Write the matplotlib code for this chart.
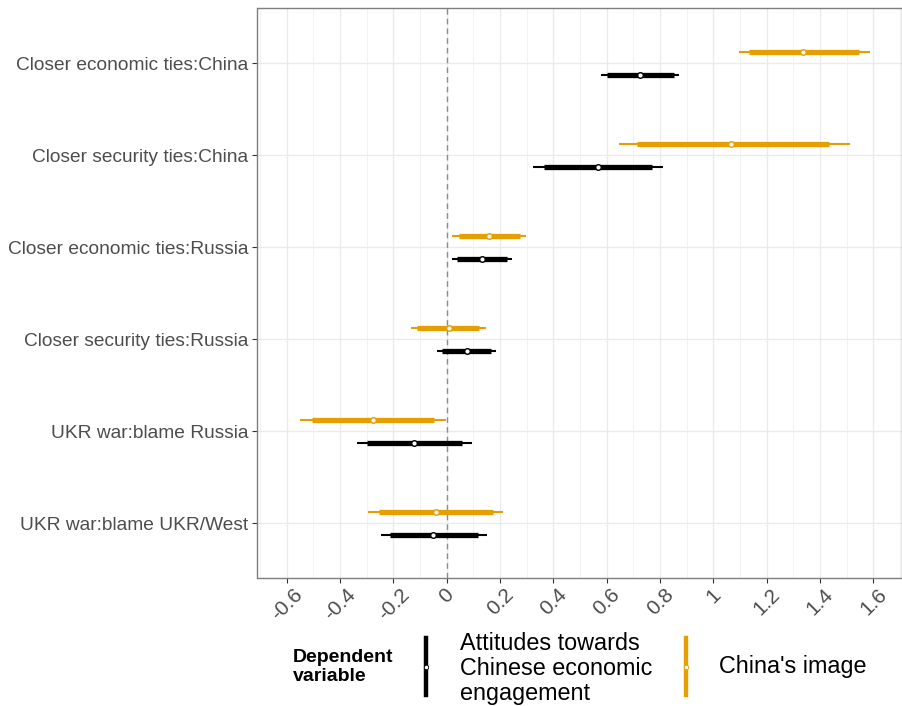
import matplotlib
matplotlib.use("Agg")
import numpy as np
from matplotlib import pyplot as plt
from matplotlib.lines import Line2D

plt.rcParams["font.family"] = ["Liberation Sans", "DejaVu Sans"]

# %%
terms = [
    "Closer economic ties:China",
    "Closer security ties:China",
    "Closer economic ties:Russia",
    "Closer security ties:Russia",
    "UKR war:blame Russia",
    "UKR war:blame UKR/West",
]

# China's image (orange)
img_est = [1.336, 1.066, 0.160, 0.008, -0.276, -0.041]
img_lo90 = [1.134, 0.715, 0.045, -0.111, -0.504, -0.253]
img_hi90 = [1.545, 1.432, 0.275, 0.122, -0.049, 0.172]
img_lo95 = [1.096, 0.647, 0.020, -0.134, -0.550, -0.294]
img_hi95 = [1.588, 1.513, 0.297, 0.146, -0.004, 0.211]

# Attitudes towards Chinese economic engagement (black)
att_est = [0.726, 0.567, 0.132, 0.075, -0.123, -0.051]
att_lo90 = [0.602, 0.365, 0.039, -0.018, -0.300, -0.214]
att_hi90 = [0.852, 0.771, 0.227, 0.166, 0.057, 0.116]
att_lo95 = [0.577, 0.324, 0.020, -0.035, -0.336, -0.245]
att_hi95 = [0.872, 0.810, 0.244, 0.185, 0.095, 0.149]

xticks = [-0.6, -0.4, -0.2, 0, 0.2, 0.4, 0.6, 0.8, 1, 1.2, 1.4, 1.6]
xtick_labels = ["-0.6", "-0.4", "-0.2", "0", "0.2", "0.4", "0.6", "0.8", "1", "1.2", "1.4", "1.6"]

orange = "#E69F00"
grey30 = "#4D4D4D"

# %%
fig = plt.figure(figsize=(9.03, 7.06), dpi=100)
W, H = 903, 706
ax = fig.add_axes([257.5 / W, 1 - 578.3 / H, (901.7 - 257.5) / W, (578.3 - 8.3) / H])

ypos = np.arange(len(terms))[::-1] + 1
dodge = 0.125


def draw_series(y, est, lo90, hi90, lo95, hi95, color):
    ax.hlines(y, lo95, hi95, color=color, lw=1.5, zorder=3)
    ax.hlines(y, lo90, hi90, color=color, lw=3.8, zorder=4)
    ax.plot(est, y, "o", ms=4, mfc="white", mec=color, mew=1.0, zorder=5, ls="none")


draw_series(ypos + dodge, img_est, img_lo90, img_hi90, img_lo95, img_hi95, orange)
draw_series(ypos - dodge, att_est, att_lo90, att_hi90, att_lo95, att_hi95, "black")

ax.axvline(0, color="#8C8C8C", ls=(0, (4, 3)), lw=1.0, zorder=2)

ax.set_xlim(-0.710, 1.706)
ax.set_ylim(0.4, 6.6)
ax.set_xticks(xticks)
ax.set_xticklabels(xtick_labels, rotation=45, ha="center", fontsize=15, color=grey30)
ax.set_xticks(np.arange(-0.7, 1.75, 0.1), minor=True)
ax.set_yticks(ypos)
ax.set_yticklabels(terms, fontsize=13.8, color=grey30)
ax.tick_params(axis="both", which="major", length=3.5, width=0.8, color="#333333", pad=3)
ax.tick_params(axis="x", which="major", pad=1.5)
ax.tick_params(axis="x", which="minor", length=0)
ax.grid(True, which="major", color="#EBEBEB", lw=1.0, zorder=0)
ax.grid(True, which="minor", axis="x", color="#F2F2F2", lw=0.7, zorder=0)
ax.set_axisbelow(True)
for sp in ax.spines.values():
    sp.set_color("#7F7F7F")
    sp.set_linewidth(1.0)

# %% legend
fig.text(293 / W, 1 - 667 / H, "Dependent\nvariable", fontsize=14, fontweight="bold",
         ha="left", va="center", linespacing=1.1)

for xk, color in [(426, "black"), (686.5, orange)]:
    fig.add_artist(Line2D([xk / W, xk / W], [1 - 638 / H, 1 - 695 / H], color=color,
                          lw=3.2, transform=fig.transFigure))
    fig.add_artist(Line2D([xk / W], [1 - 666.5 / H], marker="o", ms=3.2, mfc="white",
                          mec=color, mew=0.6, ls="none", transform=fig.transFigure))

fig.text(460 / W, 1 - 668.5 / H, "Attitudes towards\nChinese economic\nengagement",
         fontsize=16.8, ha="left", va="center", linespacing=1.12)
fig.text(719 / W, 1 - 667 / H, "China's image", fontsize=16.8, ha="left", va="center")

fig.savefig("out.png", dpi=100)
